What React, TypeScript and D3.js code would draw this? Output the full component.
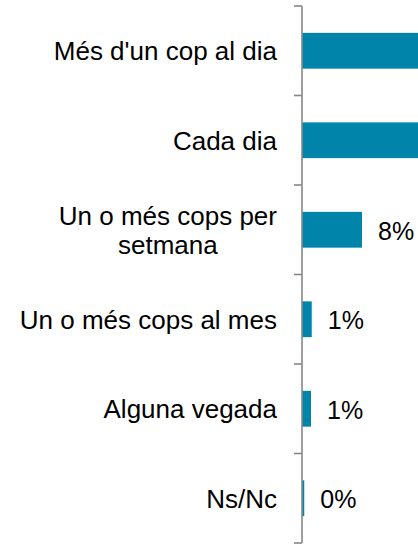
import React from "react";
import * as d3 from "d3";

const categories = [
  ["Més d'un cop al dia"],
  ["Cada dia"],
  ["Un o més cops per", "setmana"],
  ["Un o més cops al mes"],
  ["Alguna vegada"],
  ["Ns/Nc"],
];
const values = [58, 32, 8, 1.3, 1.2, 0.3];
const valueLabels = ["58%", "32%", "8%", "1%", "1%", "0%"];

const App = () => {
  const ref = React.useRef<SVGSVGElement>(null);

  React.useEffect(() => {
    const svg = d3.select(ref.current);
    svg.selectAll("*").remove();

    const width = 418,
      height = 545,
      margin = { top: 6, bottom: 2, left: 302 };
    const font = "'Liberation Sans', Arial, sans-serif";
    const idx = categories.map((_, i) => i);

    const y = d3.scaleBand<number>()
      .domain(idx)
      .range([margin.top, height - margin.bottom])
      .padding(0);

    const x = d3.scaleLinear().domain([0, 100]).range([margin.left, margin.left + 750]);

    const barH = y.step() * 0.4;

    // bars (the big ones run past the right edge, like in the cropped original)
    svg.append("g")
      .selectAll("rect")
      .data(values)
      .join("rect")
      .attr("x", x(0))
      .attr("y", (_, i) => y(i)! + (y.step() - barH) / 2)
      .attr("width", (d) => x(d) - x(0))
      .attr("height", barH)
      .attr("fill", "#0084a9");

    // value labels - only those that land inside the visible area
    const visible = idx.filter((i) => x(values[i]) + 16 < width);
    svg.append("g")
      .selectAll("text")
      .data(visible)
      .join("text")
      .attr("x", (i) => x(values[i]) + 16)
      .attr("y", (i) => y(i)! + y.step() / 2)
      .attr("dy", "0.4em")
      .attr("font-family", font)
      .attr("font-size", 25)
      .attr("fill", "#000")
      .text((i) => valueLabels[i]);

    // axis line with ticks at band boundaries
    const axis = svg.append("g").attr("stroke", "#878787").attr("stroke-width", 1.6);
    const bounds = idx.map((i) => y(i)!).concat([y(idx.length - 1)! + y.step()]);
    axis.append("line")
      .attr("x1", margin.left).attr("x2", margin.left)
      .attr("y1", bounds[0]).attr("y2", bounds[bounds.length - 1]);
    axis.selectAll("line.tick")
      .data(bounds)
      .join("line")
      .attr("class", "tick")
      .attr("x1", margin.left - 8).attr("x2", margin.left)
      .attr("y1", (d) => d).attr("y2", (d) => d);

    // category labels, right aligned block, lines centered
    const labelRight = margin.left - 25;
    const lineH = 29;
    categories.forEach((lines, i) => {
      const g = svg.append("g");
      const cy = y(i)! + y.step() / 2;
      const texts = lines.map((l, j) =>
        g.append("text")
          .attr("y", cy + (j - (lines.length - 1) / 2) * lineH)
          .attr("dy", "0.36em")
          .attr("font-family", font)
          .attr("font-size", 26)
          .attr("fill", "#000")
          .attr("text-anchor", "middle")
          .text(l)
      );
      const maxW = d3.max(texts, (t) => (t.node() as SVGTextElement).getComputedTextLength()) || 0;
      texts.forEach((t) => t.attr("x", labelRight - maxW / 2));
    });
  }, []);

  return (
    <svg
      ref={ref}
      width={418}
      height={545}
      style={{ position: "absolute", left: 0, top: 0, background: "#fff" }}
    ></svg>
  );
};

export default App;
